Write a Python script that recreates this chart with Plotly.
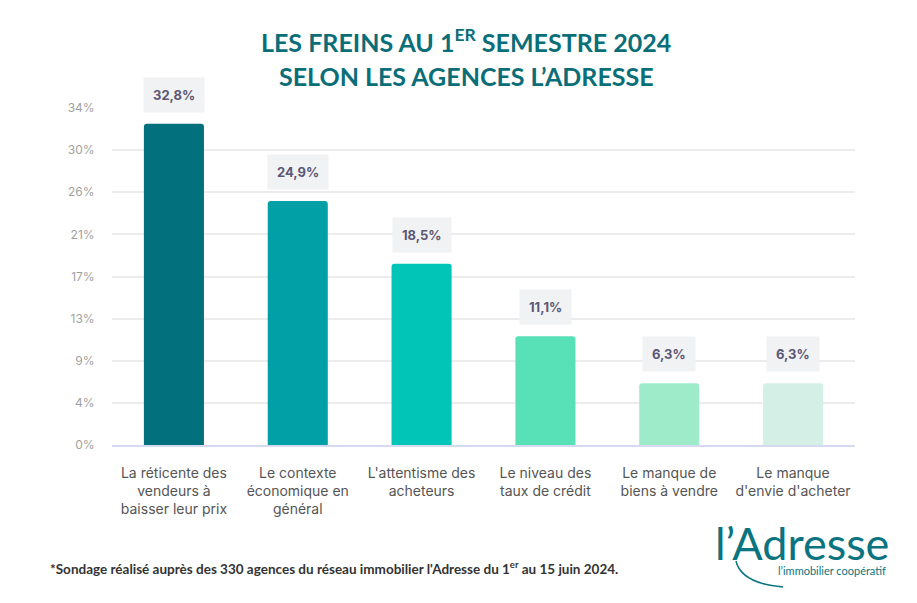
import plotly.graph_objects as go

categories = [
    "La réticente des<br>vendeurs à<br>baisser leur prix",
    "Le contexte<br>économique en<br>général",
    "L'attentisme des<br>acheteurs",
    "Le niveau des<br>taux de crédit",
    "Le manque de<br>biens à vendre",
    "Le manque<br>d'envie d'acheter",
]
values = [32.8, 24.9, 18.5, 11.1, 6.3, 6.3]
value_labels = ["32,8%", "24,9%", "18,5%", "11,1%", "6,3%", "6,3%"]
bar_colors = ["#03717d", "#00a0a6", "#00c5b7", "#58e0b7", "#9eebc9", "#d4f0e6"]
tick_vals = [0, 4.3, 8.6, 12.9, 17.2, 21.5, 25.8, 30.1, 34.4]
tick_text = ["0%", "4%", "9%", "13%", "17%", "21%", "26%", "30%", "34%"]

fig = go.Figure()
fig.add_trace(go.Bar(
    x=categories, y=values,
    marker=dict(color=bar_colors, cornerradius=3, line=dict(width=0)),
    width=0.485, hoverinfo="skip",
))

for c, v, t in zip(categories, values, value_labels):
    fig.add_annotation(
        x=c, y=v, text="<b>" + t + "</b>", showarrow=False,
        yanchor="bottom", yshift=11,
        font=dict(family="Inter", size=13, color="#5b5775"),
        bgcolor="#f1f2f3", borderpad=9,
    )

title_font = dict(family="Lato", size=25, color="#0a6e78")
fig.add_annotation(
    xref="paper", yref="paper", x=0.477, y=1.199, xanchor="center", yanchor="middle",
    showarrow=False, text="<b>LES FREINS AU 1<sup>ER</sup> SEMESTRE 2024</b>",
    font=title_font,
)
fig.add_annotation(
    xref="paper", yref="paper", x=0.477, y=1.095, xanchor="center", yanchor="middle",
    showarrow=False, text="<b>SELON LES AGENCES L’ADRESSE</b>",
    font=title_font,
)

fig.add_annotation(
    xref="paper", yref="paper", x=-0.0861, y=-0.365, xanchor="left", yanchor="middle",
    showarrow=False,
    text="<b>*Sondage réalisé auprès des 330 agences du réseau immobilier l'Adresse du 1<sup>er</sup> au 15 juin 2024.</b>",
    font=dict(family="Lato", size=13.5, color="#333333"),
)

fig.add_annotation(
    xref="paper", yref="paper", x=1.049, y=-0.291, xanchor="right", yanchor="middle",
    showarrow=False, text="l’Adresse",
    font=dict(family="Lato", size=45, color="#0a7480"),
)
fig.add_annotation(
    xref="paper", yref="paper", x=1.045, y=-0.373, xanchor="right", yanchor="middle",
    showarrow=False, text="l’immobilier coopératif",
    font=dict(family="Lato", size=11, color="#0a7480"),
)
# logo flourish under the "A"
fig.add_shape(
    type="path", xref="paper", yref="paper",
    path="M 0.8398 -0.3442 C 0.8452 -0.3947 0.8721 -0.4154 0.9031 -0.4214",
    line=dict(color="#0a7480", width=1.5),
)

fig.update_layout(
    width=917, height=603,
    margin=dict(l=104, r=70, t=100, b=166),
    paper_bgcolor="white", plot_bgcolor="white",
    showlegend=False,
    xaxis=dict(
        showgrid=False, showline=True, linecolor="#d6daf0", linewidth=1.5,
        ticks="outside", ticklen=14, tickcolor="rgba(0,0,0,0)",
        tickfont=dict(family="Inter", size=14, color="#555555"),
        tickangle=0,
    ),
    yaxis=dict(
        range=[0, 34.4], tickvals=tick_vals, ticktext=tick_text,
        showgrid=True, gridcolor="#ececef", gridwidth=1.5,
        zeroline=False, showline=False,
        ticks="outside", ticklen=14, tickcolor="rgba(0,0,0,0)",
        tickfont=dict(family="Inter", size=12, color="#9f9f9f"),
    ),
)

fig.write_html("out.html")
